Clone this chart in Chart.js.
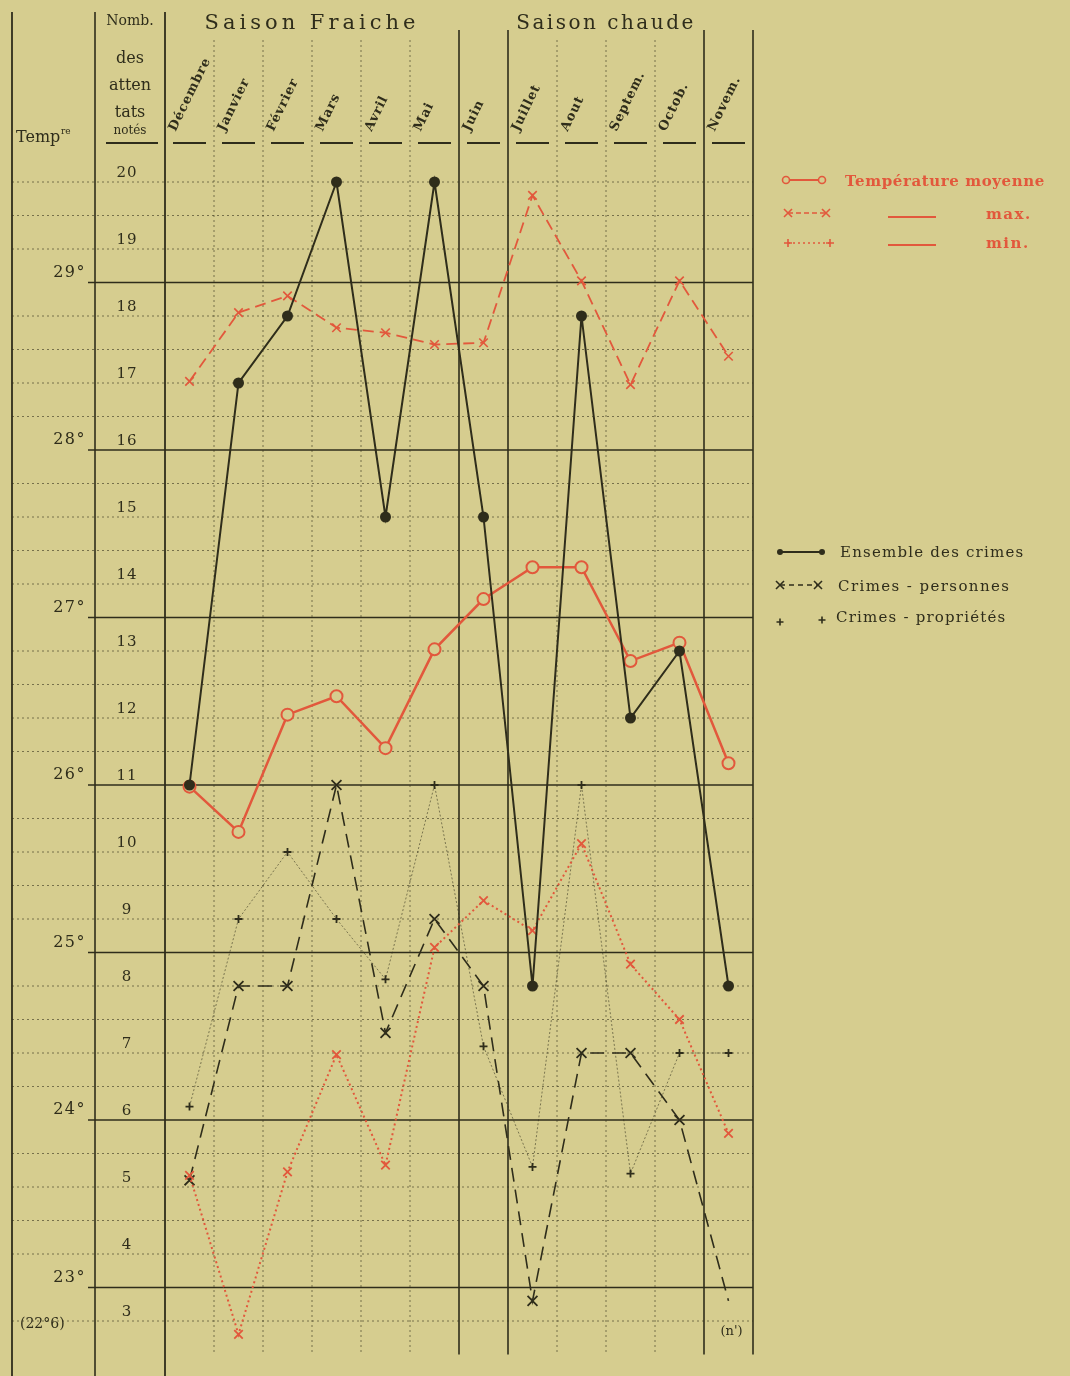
<!DOCTYPE html>
<html lang="fr">
<head>
<meta charset="utf-8">
<title>Crimes et température</title>
<script src="https://cdn.jsdelivr.net/npm/chart.js@4.4.1/dist/chart.umd.min.js"></script>
<style>
  html, body { margin: 0; padding: 0; background: #d6ce92; }
  #cadre { position: relative; width: 1070px; height: 1376px; }
</style>
</head>
<body>
<div id="cadre"><canvas id="graphique"></canvas></div>
<script>
// Colonnes : mois de l'année
const mois = ['Décembre', 'Janvier', 'Février', 'Mars', 'Avril', 'Mai', 'Juin', 'Juillet', 'Aout', 'Septem.', 'Octob.', 'Novem.'];

// Nombre des attentats notés
const ensembleCrimes = [11, 17, 18, 20, 15, 20, 15, 8, 18, 12, 13, 8];
const crimesPersonnes = [5.1, 8, 8, 11, 7.3, 9, 8, 3.3, 7, 7, 6, 3.3];
const crimesProprietes = [6.2, 9, 10, 9, 8.1, 11, 7.1, 5.3, 11, 5.2, 7, 7];

// Températures (degrés)
const tempMoyenne = [25.99, 25.72, 26.42, 26.53, 26.22, 26.81, 27.11, 27.3, 27.3, 26.74, 26.85, 26.13];
const tempMax = [28.41, 28.82, 28.92, 28.73, 28.7, 28.63, 28.64, 29.52, 29.01, 28.39, 29.01, 28.56];
const tempMin = [23.67, 22.72, 23.69, 24.39, 23.73, 25.03, 25.31, 25.13, 25.65, 24.93, 24.6, 23.92];

// Graduations
const ticksNombre = [20, 19, 18, 17, 16, 15, 14, 13, 12, 11, 10, 9, 8, 7, 6, 5, 4, 3];
const ticksTemp = [29, 28, 27, 26, 25, 24, 23];

// Couleurs
const fond = '#d6cd8f';
const encre = '#2f2d1b';
const rouge = '#e2583c';

// Marqueurs pour la légende
function marque(ctx, style, x, y, r, couleur) {
  ctx.save();
  ctx.strokeStyle = couleur;
  ctx.fillStyle = couleur;
  ctx.lineWidth = 1.6;
  ctx.setLineDash([]);
  ctx.beginPath();
  if (style === 'rond') {
    ctx.fillStyle = fond;
    ctx.arc(x, y, r, 0, Math.PI * 2);
    ctx.fill();
    ctx.stroke();
  } else if (style === 'point') {
    ctx.arc(x, y, r, 0, Math.PI * 2);
    ctx.fill();
  } else if (style === 'x') {
    ctx.moveTo(x - r, y - r); ctx.lineTo(x + r, y + r);
    ctx.moveTo(x + r, y - r); ctx.lineTo(x - r, y + r);
    ctx.stroke();
  } else {
    ctx.moveTo(x - r, y); ctx.lineTo(x + r, y);
    ctx.moveTo(x, y - r); ctx.lineTo(x, y + r);
    ctx.stroke();
  }
  ctx.restore();
}

function trait(ctx, x1, y1, x2, y2, couleur, largeur, tirets) {
  ctx.save();
  ctx.strokeStyle = couleur;
  ctx.lineWidth = largeur;
  ctx.setLineDash(tirets || []);
  ctx.beginPath();
  ctx.moveTo(x1, y1);
  ctx.lineTo(x2, y2);
  ctx.stroke();
  ctx.restore();
}

function texte(ctx, t, x, y, police, couleur, align, espace) {
  ctx.save();
  ctx.font = police;
  ctx.fillStyle = couleur;
  ctx.textAlign = align || 'left';
  ctx.textBaseline = 'alphabetic';
  ctx.letterSpacing = espace || '0px';
  ctx.fillText(t, x, y);
  ctx.restore();
}

// Quadrillage, en-têtes et légendes
const decor = {
  id: 'decor',
  beforeDraw(chart) {
    const { ctx, width, height } = chart;
    ctx.save();
    ctx.fillStyle = fond;
    ctx.fillRect(0, 0, width, height);
    ctx.restore();
  },
  beforeDatasetsDraw(chart) {
    const { ctx, chartArea: a, scales } = chart;
    const sx = scales.x, yN = scales.yN, yT = scales.yT;

    // lignes pointillées : demi-unités
    const pleinesY = ticksTemp.map(t => Math.round(yT.getPixelForValue(t)));
    for (let n = 3; n <= 20; n += 0.5) {
      const y = yN.getPixelForValue(n);
      if (pleinesY.some(p => Math.abs(p - y) < 3)) continue;
      trait(ctx, 12, y, a.right, y, 'rgba(55,52,30,0.6)', 1, [2, 3]);
    }
    // lignes pleines : degrés
    ticksTemp.forEach(t => {
      const y = yT.getPixelForValue(t);
      trait(ctx, 88, y, a.right, y, encre, 1.6);
    });

    // colonnes des mois
    const bords = [];
    for (let i = 0; i <= mois.length; i++) {
      if (i === 0) bords.push(a.left);
      else if (i === mois.length) bords.push(a.right);
      else bords.push((sx.getPixelForValue(i - 1) + sx.getPixelForValue(i)) / 2);
    }
    const pleines = [6, 7, 11, 12];
    bords.forEach((b, i) => {
      if (i === 0) return;
      if (pleines.includes(i)) trait(ctx, b, 30, b, a.bottom, encre, 1.6);
      else trait(ctx, b, 40, b, a.bottom, 'rgba(55,52,30,0.6)', 1, [2, 3]);
    });
    // colonnes de gauche
    trait(ctx, 12, 12, 12, chart.height, encre, 1.8);
    trait(ctx, 95, 12, 95, chart.height, encre, 1.6);
    trait(ctx, a.left, 12, a.left, chart.height, encre, 1.8);

    // petits traits sous les mois
    for (let i = 0; i < mois.length; i++) {
      trait(ctx, bords[i] + 8, 143, bords[i + 1] - 8, 143, encre, 1.8);
    }
    trait(ctx, 106, 143, 158, 143, encre, 1.8);
  },
  afterDraw(chart) {
    const { ctx, scales } = chart;
    const sx = scales.x, yN = scales.yN, yT = scales.yT;
    const serif = '"DejaVu Serif", "Liberation Serif", serif';

    // en-têtes
    texte(ctx, 'Saison Fraiche', 312, 29, '21px ' + serif, encre, 'center', '4px');
    texte(ctx, 'Saison chaude', 606, 29, '20px ' + serif, encre, 'center', '2.5px');
    texte(ctx, 'Nomb.', 130, 25, '14px ' + serif, encre, 'center');
    texte(ctx, 'des', 130, 63, '16px ' + serif, encre, 'center');
    texte(ctx, 'atten', 130, 90, '16px ' + serif, encre, 'center');
    texte(ctx, 'tats', 130, 117, '16px ' + serif, encre, 'center');
    texte(ctx, 'notés', 130, 134, '12px ' + serif, encre, 'center');
    texte(ctx, 'Temp', 16, 142, '16px ' + serif, encre, 'left');
    texte(ctx, 're', 61, 134, '9px ' + serif, encre, 'left');

    // noms des mois, écrits en biais
    mois.forEach((m, i) => {
      const x = sx.getPixelForValue(i) - 14;
      ctx.save();
      ctx.translate(x, 132);
      ctx.rotate(-64 * Math.PI / 180);
      texte(ctx, m, 0, 0, 'bold 13px ' + serif, encre, 'left', '0.8px');
      ctx.restore();
    });

    // graduations : nombre des attentats
    ticksNombre.forEach(n => {
      texte(ctx, String(n), 127, yN.getPixelForValue(n) - 5, '15px ' + serif, encre, 'center', '1px');
    });
    // graduations : températures
    ticksTemp.forEach(t => {
      texte(ctx, t + '°', 86, yT.getPixelForValue(t) - 6, '16px ' + serif, encre, 'right', '1.5px');
    });
    texte(ctx, '(22°6)', 20, yT.getPixelForValue(22.72) - 6, '14px ' + serif, encre, 'left');

    // renvoi au bas de la colonne de novembre
    texte(ctx, "(n')", sx.getPixelForValue(11) + 3, yN.getPixelForValue(3) + 14, '13px ' + serif, encre, 'center');

    // légende des températures
    const leg = 'bold 15px ' + serif;
    trait(ctx, 786, 180, 820, 180, rouge, 2);
    marque(ctx, 'rond', 786, 180, 3.5, rouge);
    marque(ctx, 'rond', 822, 180, 3.5, rouge);
    texte(ctx, 'Température moyenne', 845, 186, leg, rouge, 'left', '0.6px');
    trait(ctx, 788, 213, 826, 213, rouge, 1.6, [5, 3]);
    marque(ctx, 'x', 788, 213, 4, rouge);
    marque(ctx, 'x', 826, 213, 4, rouge);
    trait(ctx, 888, 217, 936, 217, rouge, 2);
    texte(ctx, 'max.', 986, 219, leg, rouge, 'left', '1.5px');
    trait(ctx, 788, 243, 830, 243, rouge, 1.6, [2, 3]);
    marque(ctx, '+', 788, 243, 4, rouge);
    marque(ctx, '+', 830, 243, 4, rouge);
    trait(ctx, 888, 245, 936, 245, rouge, 2);
    texte(ctx, 'min.', 986, 248, leg, rouge, 'left', '1.5px');

    // légende des crimes
    const leg2 = '15px ' + serif;
    trait(ctx, 780, 552, 822, 552, encre, 2);
    marque(ctx, 'point', 780, 552, 3, encre);
    marque(ctx, 'point', 822, 552, 3, encre);
    texte(ctx, 'Ensemble des crimes', 840, 557, leg2, encre, 'left', '1.2px');
    trait(ctx, 780, 585, 818, 585, encre, 1.4, [5, 4]);
    marque(ctx, 'x', 780, 585, 4, encre);
    marque(ctx, 'x', 818, 585, 4, encre);
    texte(ctx, 'Crimes - personnes', 838, 591, leg2, encre, 'left', '1.4px');
    marque(ctx, '+', 780, 622, 3.5, encre);
    marque(ctx, '+', 822, 620, 3.5, encre);
    texte(ctx, 'Crimes - propriétés', 836, 622, leg2, encre, 'left', '1.2px');
  }
};

new Chart(document.getElementById('graphique'), {
  type: 'line',
  data: {
    labels: mois,
    datasets: [
      {
        label: 'Ensemble des crimes',
        data: ensembleCrimes,
        yAxisID: 'yN',
        borderColor: encre,
        borderWidth: 2,
        pointStyle: 'circle',
        pointRadius: 4.5,
        pointBackgroundColor: encre,
        pointBorderColor: encre,
        tension: 0
      },
      {
        label: 'Température moyenne',
        data: tempMoyenne,
        yAxisID: 'yT',
        borderColor: rouge,
        borderWidth: 2.5,
        pointStyle: 'circle',
        pointRadius: 6,
        pointBorderWidth: 2,
        pointBackgroundColor: fond,
        pointBorderColor: rouge,
        tension: 0
      },
      {
        label: 'Température max.',
        data: tempMax,
        yAxisID: 'yT',
        borderColor: rouge,
        borderWidth: 1.8,
        borderDash: [11, 6],
        pointStyle: 'crossRot',
        pointRadius: 6,
        pointBorderWidth: 1.6,
        pointBorderColor: rouge,
        tension: 0
      },
      {
        label: 'Température min.',
        data: tempMin,
        yAxisID: 'yT',
        borderColor: rouge,
        borderWidth: 2,
        borderDash: [2, 3],
        pointStyle: 'crossRot',
        pointRadius: 6,
        pointBorderWidth: 1.8,
        pointBorderColor: rouge,
        tension: 0
      },
      {
        label: 'Crimes - personnes',
        data: crimesPersonnes,
        yAxisID: 'yN',
        borderColor: encre,
        borderWidth: 1.6,
        borderDash: [14, 8],
        pointStyle: 'crossRot',
        pointRadius: c => (c.dataIndex === mois.length - 1 ? 0 : 7),
        pointBorderWidth: 1.8,
        pointBorderColor: encre,
        tension: 0
      },
      {
        label: 'Crimes - propriétés',
        data: crimesProprietes,
        yAxisID: 'yN',
        borderColor: 'rgba(47,45,27,0.55)',
        borderWidth: 1,
        borderDash: [2, 2],
        pointStyle: 'cross',
        pointRadius: 4,
        pointBorderWidth: 1.8,
        pointBorderColor: encre,
        tension: 0
      }
    ]
  },
  options: {
    responsive: true,
    maintainAspectRatio: false,
    animation: false,
    layout: { padding: { left: 165, right: 317, top: 148.5, bottom: 21.5 } },
    plugins: {
      legend: { display: false },
      tooltip: { enabled: false }
    },
    scales: {
      x: { type: 'category', offset: true, display: false },
      yN: { type: 'linear', min: 2.5, max: 20.5, display: false },
      yT: { type: 'linear', min: 22.6, max: 29.8, display: false }
    }
  },
  plugins: [decor]
});
</script>
</body>
</html>
